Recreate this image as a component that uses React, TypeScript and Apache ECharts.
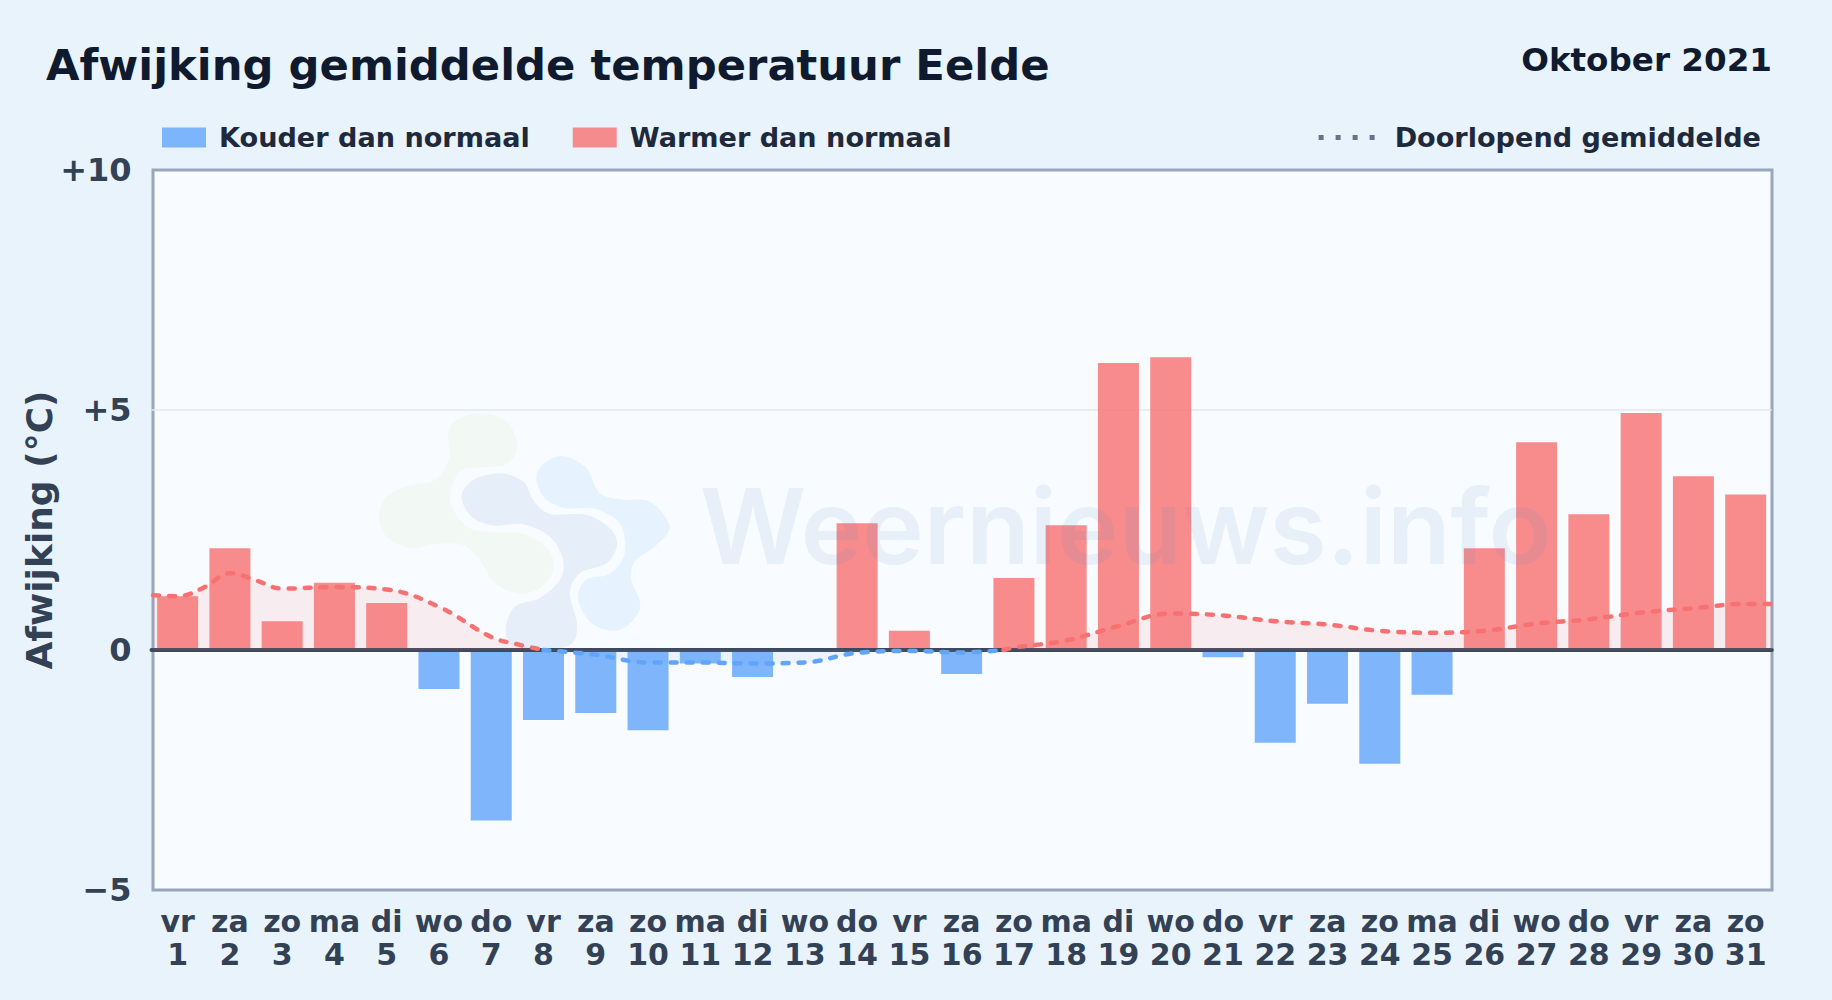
import React, { useEffect, useRef } from "react";
import * as echarts from "echarts";

const weekdays = ["vr","za","zo","ma","di","wo","do","vr","za","zo","ma","di","wo","do","vr","za","zo","ma","di","wo","do","vr","za","zo","ma","di","wo","do","vr","za","zo"];
const dayNumbers = Array.from({ length: 31 }, (_, i) => String(i + 1));
const categories = dayNumbers.map((d, i) => `${weekdays[i]}\n${d}`);
const deviation = [1.12,2.12,0.6,1.4,0.98,-0.81,-3.55,-1.46,-1.31,-1.67,-0.28,-0.56,0,2.64,0.4,-0.5,1.5,2.6,5.98,6.1,-0.15,-1.93,-1.12,-2.37,-0.93,2.12,4.33,2.83,4.94,3.62,3.24];
const warmAverage: [number, number | null][] = [[0.53,1.14],[1,1.12],[1.5,1.3],[2,1.6],[2.5,1.45],[3,1.28],[4,1.31],[5,1.26],[6,0.9],[7,0.27],[7.5,0.12],[8,0],[12,null],[16.8,0],[17,0.05],[18,0.2],[19,0.5],[20,0.76],[21,0.72],[22,0.6],[23,0.53],[24,0.4],[25,0.36],[26,0.4],[27,0.55],[28,0.64],[29,0.78],[30,0.87],[31,0.96],[31.5,0.96]];
const coldAverage: [number, number][] = [[8,0],[9,-0.1],[10,-0.26],[11,-0.26],[12,-0.28],[13,-0.26],[14,-0.06],[15,-0.02],[16,-0.05],[16.8,0]];
const yTicks: Record<string, string> = { "10": "+10", "5": "+5", "0": "0", "-5": "\u22125" };

const RED_BAR = "rgba(248,113,113,0.8)";
const BLUE_BAR = "rgba(96,165,250,0.8)";
const FONT = "DejaVu Sans";

function blob(points: number[][]) {
  const n = points.length;
  let d = `M${points[0][0]} ${points[0][1]}`;
  for (let i = 0; i < n; i++) {
    const p0 = points[(i - 1 + n) % n], p1 = points[i], p2 = points[(i + 1) % n], p3 = points[(i + 2) % n];
    d += `C${p1[0] + (p2[0] - p0[0]) / 6} ${p1[1] + (p2[1] - p0[1]) / 6} ${p2[0] - (p3[0] - p1[0]) / 6} ${p2[1] - (p3[1] - p1[1]) / 6} ${p2[0]} ${p2[1]}`;
  }
  return d + "Z";
}
const greenBlob = [[265,130],[290,90],[360,70],[440,95],[472,170],[440,222],[370,232],[300,245],[270,330],[320,410],[400,428],[490,432],[565,480],[580,540],[540,595],[470,610],[400,575],[360,510],[310,465],[230,462],[150,475],[80,440],[58,380],[80,320],[150,287],[225,270],[268,205]];
const slateBlob = [[305,320],[340,270],[420,250],[490,275],[520,330],[570,372],[680,375],[750,415],[772,465],[740,520],[660,550],[630,610],[652,710],[620,770],[470,770],[438,720],[465,650],[540,625],[600,570],[610,510],[570,440],[490,403],[400,407],[335,380]];
const skyBlob = [[530,260],[560,215],[615,200],[680,235],[720,310],[790,330],[870,335],[930,410],[885,470],[825,515],[815,570],[842,650],[800,710],[750,722],[690,695],[655,625],[680,570],[750,552],[795,490],[780,400],[700,355],[620,355],[555,325]];
echarts.graphic.registerShape("wnGreen", echarts.graphic.extendPath(blob(greenBlob), {}));
echarts.graphic.registerShape("wnSlate", echarts.graphic.extendPath(blob(slateBlob), {}));
echarts.graphic.registerShape("wnSky", echarts.graphic.extendPath(blob(skyBlob), {}));

export default function App() {
  const ref = useRef<HTMLDivElement>(null);
  useEffect(() => {
    document.body.style.margin = "0";
    const chart = echarts.init(ref.current!, null, { renderer: "svg" });
    const logo = (type: string, fill: string) => ({ type, x: 360, y: 390, scaleX: 1 / 3, scaleY: 1 / 3, z: -1, style: { fill }, silent: true });
    chart.setOption({
      animation: false,
      backgroundColor: "#e9f3fc",
      textStyle: { fontFamily: FONT },
      title: [
        { text: "Afwijking gemiddelde temperatuur Eelde", left: 41, top: 38, textStyle: { fontFamily: FONT, fontWeight: "bold", fontSize: 43.3, color: "#0f1a2e" } },
        { text: "Oktober 2021", right: 55, top: 38, textStyle: { fontFamily: FONT, fontWeight: "bold", fontSize: 32.6, color: "#0f1a2e" } },
      ],
      legend: [
        {
          left: 157, top: 119, itemWidth: 44, itemHeight: 20, itemGap: 43, selectedMode: false,
          textStyle: { fontFamily: FONT, fontWeight: "bold", fontSize: 27.1, color: "#1e293b", padding: [0, 0, 0, 8] },
          data: [
            { name: "Kouder dan normaal", icon: "rect", itemStyle: { color: BLUE_BAR } },
            { name: "Warmer dan normaal", icon: "rect", itemStyle: { color: RED_BAR } },
          ],
        },
        {
          right: 66, top: 119, itemWidth: 60, itemHeight: 20, selectedMode: false,
          textStyle: { fontFamily: FONT, fontWeight: "bold", fontSize: 27.1, color: "#1e293b", padding: [0, 0, 0, 11] },
          data: [{ name: "Doorlopend gemiddelde", itemStyle: { opacity: 0 }, lineStyle: { color: "#64748b", width: 5, type: [5, 12], cap: "butt" } }],
        },
      ],
      grid: { left: 151.5, top: 170, width: 1620.3, height: 720, show: false, outerBoundsMode: "none", containLabel: false },
      graphic: [
        { type: "rect", shape: { x: 153, y: 170, width: 1619, height: 720 }, z: -2, silent: true, style: { fill: "#f8fbff", stroke: "#97a6bc", lineWidth: 3 } },
        logo("wnGreen", "rgba(200,235,160,0.13)"),
        logo("wnSlate", "rgba(120,165,215,0.14)"),
        logo("wnSky", "rgba(120,190,245,0.14)"),
        { type: "text", x: 700, y: 474, z: 100, silent: true, style: { text: "Weernieuws.info", fontFamily: "Inter", fontWeight: 600, fontSize: 104, fill: "rgba(90,140,200,0.1)" } },
      ],
      xAxis: [
        {
          type: "category", data: categories, position: "bottom",
          axisLine: { show: false, onZero: false },
          axisTick: { show: false },
          axisLabel: { interval: 0, hideOverlap: false, fontFamily: FONT, fontWeight: "bold", fontSize: 30, lineHeight: 33, color: "#334155", margin: 15 },
        },
        {
          type: "value", min: 0.5, max: 31.5, position: "bottom", z: 3,
          axisLine: { show: true, onZero: true, lineStyle: { color: "#3d4a5e", width: 4 } },
          axisTick: { show: false }, axisLabel: { show: false }, splitLine: { show: false },
        },
      ],
      yAxis: {
        type: "value", min: -5, max: 10, interval: 5,
        name: "Afwijking (\u00B0C)", nameLocation: "middle", nameGap: 94, nameMoveOverlap: false,
        nameTextStyle: { fontFamily: FONT, fontWeight: "bold", fontSize: 36, color: "#334155" },
        axisLine: { show: false }, axisTick: { show: false },
        axisLabel: { fontFamily: FONT, fontWeight: "bold", fontSize: 32, color: "#334155", margin: 20, formatter: (v: number) => yTicks[String(v)] },
        splitLine: { showMinLine: false, showMaxLine: false, lineStyle: { color: "#e2e8f0", width: 1.5 } },
      },
      series: [
        {
          name: "Kouder dan normaal", type: "bar", barWidth: 41, barGap: "-100%", z: 2,
          itemStyle: { color: BLUE_BAR },
          data: deviation.map((v) => (v < 0 ? v : null)),
        },
        {
          name: "Warmer dan normaal", type: "bar", barWidth: 41, barGap: "-100%", z: 2,
          itemStyle: { color: RED_BAR },
          data: deviation.map((v) => (v >= 0 ? v : null)),
        },
        {
          name: "Doorlopend gemiddelde", type: "line", xAxisIndex: 1, z: 4, smooth: 0.4, showSymbol: false, connectNulls: false,
          lineStyle: { color: "#f87171", width: 4.5, type: [6, 10], cap: "round" },
          areaStyle: { color: "rgba(248,113,113,0.15)" },
          data: warmAverage,
        },
        {
          name: "Doorlopend gemiddelde koud", type: "line", xAxisIndex: 1, z: 4, smooth: 0.4, showSymbol: false,
          lineStyle: { color: "#60a5fa", width: 4.5, type: [6, 10], cap: "round" },
          areaStyle: { color: "rgba(96,165,250,0.13)" },
          data: coldAverage,
        },
      ],
    });
    return () => chart.dispose();
  }, []);
  return <div ref={ref} style={{ position: "absolute", left: 0, top: 0, width: 1832, height: 1000 }} />;
}
